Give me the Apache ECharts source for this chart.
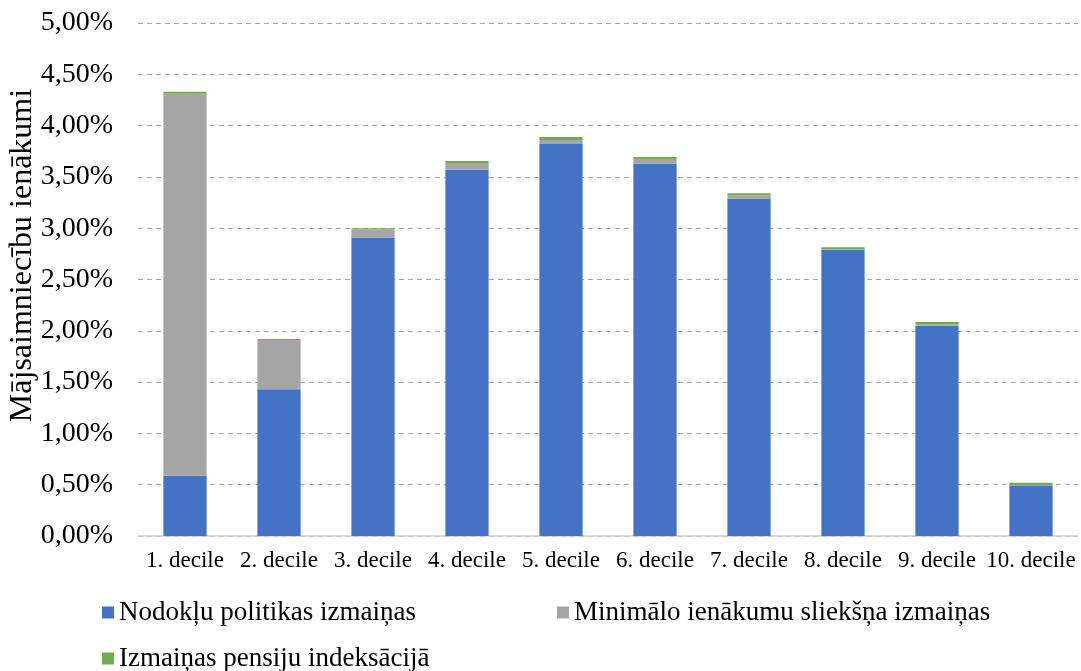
<!DOCTYPE html>
<html>
<head>
<meta charset="utf-8">
<script src="https://cdn.jsdelivr.net/npm/echarts@6/dist/echarts.min.js"></script>
<style>html,body{margin:0;padding:0;background:#fff;}#c{width:1081px;height:671px;}</style>
</head>
<body>
<div id="c"></div>
<script>
var categories = ['1. decile','2. decile','3. decile','4. decile','5. decile','6. decile','7. decile','8. decile','9. decile','10. decile'];
var seriesNames = ['Nodokļu politikas izmaiņas','Minimālo ienākumu sliekšņa izmaiņas','Izmaiņas pensiju indeksācijā'];
var taxPolicy = [0.59, 1.43, 2.91, 3.57, 3.82, 3.63, 3.29, 2.79, 2.05, 0.49];
var minIncome = [3.72, 0.48, 0.08, 0.065, 0.04, 0.045, 0.03, 0.005, 0.015, 0.0];
var pensionIdx = [0.02, 0.01, 0.01, 0.02, 0.03, 0.02, 0.02, 0.02, 0.02, 0.03];
var yAxisName = 'Mājsaimniecību ienākumi';

var font = 'Liberation Serif';
var chart = echarts.init(document.getElementById('c'));
function legend(name, left, top){
  return {data:[name], left:left, top:top, itemWidth:12, itemHeight:12, itemGap:10, icon:'rect',
    textStyle:{fontFamily:font, fontSize:27, color:'#000'}, selectedMode:false};
}
chart.setOption({
  animation:false,
  textStyle:{fontFamily:font},
  grid:{left:138, right:3, top:23, bottom:135, outerBoundsMode:'none', containLabel:false},
  legend:[legend(seriesNames[0], 97, 594), legend(seriesNames[1], 552, 594), legend(seriesNames[2], 97, 640)],
  xAxis:{type:'category', data:categories,
    axisLine:{lineStyle:{color:'#d0d0d0', width:1.5}}, axisTick:{show:false},
    axisLabel:{fontFamily:font, fontSize:23, color:'#000', margin:13, interval:0}},
  yAxis:{type:'value', min:0, max:5, interval:0.5,
    name:yAxisName, nameLocation:'middle', nameGap:99, nameMoveOverlap:false,
    nameTextStyle:{fontFamily:font, fontSize:32, color:'#000', padding:[0,0,0,48]},
    axisLine:{show:false}, axisTick:{show:false},
    axisLabel:{fontFamily:font, fontSize:28, color:'#000', margin:25,
      formatter:function(v){return v.toFixed(2).replace('.',',')+'%';}},
    splitLine:{lineStyle:{color:'#a6a6a6', type:[5,4], width:1}}},
  series:[
    {name:seriesNames[0], type:'bar', stack:'a', data:taxPolicy, barWidth:'46%', itemStyle:{color:'#4472C4'}},
    {name:seriesNames[1], type:'bar', stack:'a', data:minIncome, itemStyle:{color:'#A5A5A5'}},
    {name:seriesNames[2], type:'bar', stack:'a', data:pensionIdx, itemStyle:{color:'#70AD47'}}
  ]
});
</script>
</body>
</html>
